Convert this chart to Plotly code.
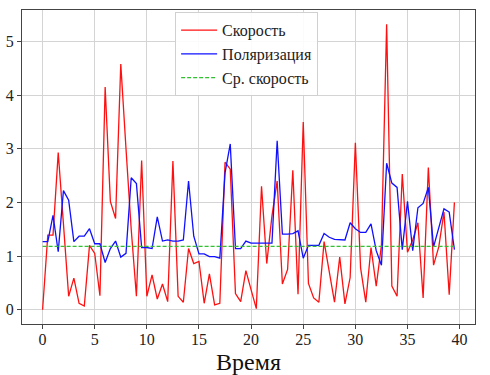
import plotly.graph_objects as go

time = [0.0, 0.5, 1.0, 1.5, 2.0, 2.5, 3.0, 3.5, 4.0, 4.5,
        5.0, 5.5, 6.0, 6.5, 7.0, 7.5, 8.0, 8.5, 9.0, 9.5,
        10.0, 10.5, 11.0, 11.5, 12.0, 12.5, 13.0, 13.5, 14.0, 14.5,
        15.0, 15.5, 16.0, 16.5, 17.0, 17.5, 18.0, 18.5, 19.0, 19.5,
        20.0, 20.5, 21.0, 21.5, 22.0, 22.5, 23.0, 23.5, 24.0, 24.5,
        25.0, 25.5, 26.0, 26.5, 27.0, 27.5, 28.0, 28.5, 29.0, 29.5,
        30.0, 30.5, 31.0, 31.5, 32.0, 32.5, 33.0, 33.5, 34.0, 34.5,
        35.0, 35.5, 36.0, 36.5, 37.0, 37.5, 38.0, 38.5, 39.0, 39.5]

speed = [0.0, 1.39, 1.39, 2.93, 1.6, 0.25, 0.59, 0.12, 0.07, 1.2,
         1.05, 0.26, 4.15, 2.02, 1.7, 4.58, 3.0, 1.5, 0.25, 2.78,
         0.25, 0.65, 0.2, 0.48, 0.15, 2.77, 0.25, 0.14, 1.14, 0.86,
         0.9, 0.12, 0.67, 0.09, 0.12, 2.75, 2.62, 0.3, 0.15, 0.73,
         0.37, 0.02, 2.3, 0.86, 1.75, 2.4, 0.48, 0.75, 2.6, 0.29,
         3.5, 0.49, 0.22, 0.14, 1.27, 0.68, 0.14, 0.98, 0.11, 0.6,
         3.11, 0.78, 0.14, 1.16, 0.44, 1.2, 5.32, 0.44, 0.25, 2.53,
         1.07, 1.3, 1.62, 0.22, 2.65, 0.83, 1.17, 1.82, 0.28, 2.0]

polarization = [1.27, 1.27, 1.76, 1.08, 2.22, 2.04, 1.27, 1.37, 1.37, 1.51,
                1.23, 1.23, 0.88, 1.14, 1.28, 0.98, 1.05, 2.46, 2.35, 1.16,
                1.16, 1.14, 1.73, 1.28, 1.3, 1.28, 1.28, 1.3, 2.4, 1.37,
                1.04, 1.04, 0.99, 0.99, 0.96, 2.55, 3.09, 1.14, 1.14, 1.28,
                1.24, 1.24, 1.24, 1.24, 1.24, 3.15, 1.41, 1.41, 1.42, 1.47,
                0.96, 1.2, 1.2, 1.2, 1.42, 1.35, 1.31, 1.3, 1.3, 1.62,
                1.51, 1.44, 1.44, 1.6, 1.1, 0.83, 2.73, 2.36, 2.28, 1.12,
                2.02, 1.1, 1.9, 1.98, 2.28, 1.17, 1.51, 1.88, 1.82, 1.12]

mean_speed = 1.18

x_ticks = [0, 5, 10, 15, 20, 25, 30, 35, 40]
y_ticks = [0, 1, 2, 3, 4, 5]

FONT = "Times New Roman, Liberation Serif, DejaVu Serif, serif"

fig = go.Figure()
fig.add_trace(go.Scatter(x=time, y=speed, mode="lines", name="Скорость",
                         line=dict(color="#ff1010", width=1.3)))
fig.add_trace(go.Scatter(x=time, y=polarization, mode="lines", name="Поляризация",
                         line=dict(color="#1010ff", width=1.3)))
fig.add_trace(go.Scatter(x=[time[0], time[-1]], y=[mean_speed, mean_speed], mode="lines",
                         name="Ср. скорость",
                         line=dict(color="#30c030", width=1.3, dash="4px,2px")))

fig.update_layout(
    width=490, height=375,
    margin=dict(l=22, r=15, t=10, b=51),
    paper_bgcolor="white", plot_bgcolor="white",
    font=dict(family=FONT, size=15, color="#222"),
    showlegend=True,
    legend=dict(x=0.338, y=0.993, xanchor="left", yanchor="top",
                bgcolor="rgba(255,255,255,0.9)", bordercolor="#d0d0d0", borderwidth=1,
                font=dict(family=FONT, size=16, color="#222"),
                tracegroupgap=0, itemwidth=36),
)
fig.update_xaxes(
    range=[-1.975, 41.475], tickvals=x_ticks, ticktext=[str(v) for v in x_ticks],
    showgrid=True, gridcolor="#d4d4d4", gridwidth=1,
    showline=True, linecolor="#444", linewidth=1, mirror=True,
    ticks="outside", ticklen=4, tickcolor="#444",
    zeroline=False, automargin=False, ticklabelstandoff=-3,
    tickfont=dict(family=FONT, size=16, color="#222"),
    title=dict(text="Время", font=dict(family=FONT, size=24, color="#111")),
)
fig.update_yaxes(
    range=[-0.266, 5.586], tickvals=y_ticks, ticktext=[str(v) for v in y_ticks],
    showgrid=True, gridcolor="#d4d4d4", gridwidth=1,
    showline=True, linecolor="#444", linewidth=1, mirror=True,
    ticks="outside", ticklen=4, tickcolor="#444",
    zeroline=False, automargin=False,
    tickfont=dict(family=FONT, size=16, color="#222"),
)

fig.write_html("out.html", config={"displayModeBar": False},
               post_script="document.body.style.margin='0';")
